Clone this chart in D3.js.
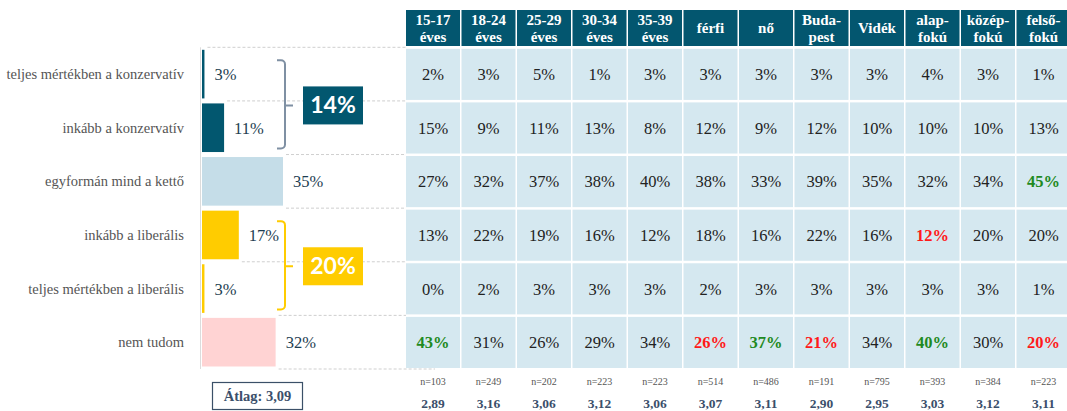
<!DOCTYPE html>
<html>
<head>
<meta charset="utf-8">
<script src="https://cdn.jsdelivr.net/npm/d3@7/dist/d3.min.js"></script>
<style>
  body { margin: 0; background: #fff; }
  svg { display: block; }
  svg text { font-family: "Liberation Serif", "DejaVu Serif", "Times New Roman", serif; }
  svg text.sans { font-family: Lato, "Open Sans", sans-serif; }
</style>
</head>
<body>
<svg id="chart" width="1067" height="411"></svg>
<script>
// answer categories and total shares
var categories = ["teljes mértékben a konzervatív", "inkább a konzervatív", "egyformán mind a kettő",
                  "inkább a liberális", "teljes mértékben a liberális", "nem tudom"];
var totals = [3, 11, 35, 17, 3, 32];
var barColors = ["#02576f", "#02576f", "#c5dde8", "#ffcc00", "#ffcc00", "#ffd3d3"];

// grouped sums
var groups = [
  { label: "14%", from: 0, to: 1, color: "#02576f", bracket: "#7f90a3" },
  { label: "20%", from: 3, to: 4, color: "#ffcc00", bracket: "#ffcc00" }
];

// table columns
var columns = [["15-17", "éves"], ["18-24", "éves"], ["25-29", "éves"], ["30-34", "éves"], ["35-39", "éves"],
               ["férfi"], ["nő"], ["Buda-", "pest"], ["Vidék"], ["alap-", "fokú"], ["közép-", "fokú"], ["felső-", "fokú"]];
var row0 = [2, 3, 5, 1, 3, 3, 3, 3, 3, 4, 3, 1];
var row1 = [15, 9, 11, 13, 8, 12, 9, 12, 10, 10, 10, 13];
var row2 = [27, 32, 37, 38, 40, 38, 33, 39, 35, 32, 34, 45];
var row3 = [13, 22, 19, 16, 12, 18, 16, 22, 16, 12, 20, 20];
var row4 = [0, 2, 3, 3, 3, 2, 3, 3, 3, 3, 3, 1];
var row5 = [43, 31, 26, 29, 34, 26, 37, 21, 34, 40, 30, 20];
var tableRows = [row0, row1, row2, row3, row4, row5];
var sampleSizes = [103, 249, 202, 223, 223, 514, 486, 191, 795, 393, 384, 223];
var averages = ["2,89", "3,16", "3,06", "3,12", "3,06", "3,07", "3,11", "2,90", "2,95", "3,03", "3,12", "3,11"];
var overallAverage = "3,09";

// significant deviations: [row, column, direction]
var highlights = [[2, 11, "up"], [3, 9, "down"], [5, 0, "up"], [5, 5, "down"], [5, 6, "up"],
                  [5, 7, "down"], [5, 9, "up"], [5, 11, "down"]];

var teal = "#03566f";

var svg = d3.select("#chart");

var y = d3.scaleBand().domain(d3.range(categories.length)).range([47.3, 369]);
var x = d3.scaleLinear().domain([2, 35]).range([202, 283]);
var col = d3.scaleBand().domain(d3.range(columns.length)).range([406, 406 + columns.length * 55.5]);

// dashed grid lines between rows
var bounds = d3.range(categories.length + 1);
svg.append("g").selectAll("line").data(bounds).join("line")
  .attr("x1", function(i) {
    var a = i > 0 ? x(totals[i - 1]) : 0;
    var b = i < totals.length ? x(totals[i]) : 0;
    return Math.max(a, b) + 3;
  })
  .attr("x2", function(i) { return i === categories.length ? 435 : 406; })
  .attr("y1", function(i) { return y.range()[0] + i * y.step(); })
  .attr("y2", function(i) { return y.range()[0] + i * y.step(); })
  .attr("stroke", "#cfcfcf")
  .attr("stroke-dasharray", "3,2");

// axis line
svg.append("line")
  .attr("x1", 200.5).attr("x2", 200.5)
  .attr("y1", y.range()[0]).attr("y2", y.range()[1])
  .attr("stroke", "#dcdcdc");

// category labels
svg.append("g").selectAll("text").data(categories).join("text")
  .attr("x", 184)
  .attr("y", function(d, i) { return y(i) + y.step() / 2 + 5; })
  .attr("text-anchor", "end")
  .attr("font-size", 14.5)
  .attr("fill", "#555")
  .text(function(d) { return d; });

// bars
svg.append("g").selectAll("rect").data(totals).join("rect")
  .attr("x", x(2))
  .attr("y", function(d, i) { return y(i) + 2.5; })
  .attr("width", function(d) { return x(d) - x(2); })
  .attr("height", y.step() - 5)
  .attr("fill", function(d, i) { return barColors[i]; });

svg.append("g").selectAll("text").data(totals).join("text")
  .attr("x", function(d) { return x(d) + 10; })
  .attr("y", function(d, i) { return y(i) + y.step() / 2 + 6; })
  .attr("font-size", 16.5)
  .attr("fill", "#1d3e51")
  .text(function(d) { return d + "%"; });

// brackets and group boxes
groups.forEach(function(g) {
  var top = y(g.from) + 13, bottom = y(g.to) + y.step() - 6, mid = (top + bottom) / 2 + 1;
  var p = d3.path();
  p.moveTo(277, top);
  p.lineTo(281, top);
  p.arcTo(285, top, 285, top + 4, 4);
  p.lineTo(285, bottom - 4);
  p.arcTo(285, bottom, 281, bottom, 4);
  p.lineTo(277, bottom);
  p.moveTo(285, mid);
  p.lineTo(293, mid);
  svg.append("path").attr("d", p.toString())
    .attr("fill", "none").attr("stroke", g.bracket).attr("stroke-width", 2);
  svg.append("rect")
    .attr("x", 303).attr("y", mid - 19).attr("width", 60).attr("height", 38)
    .attr("fill", g.color);
  svg.append("text")
    .attr("class", "sans")
    .attr("x", 333).attr("y", mid + 8)
    .attr("text-anchor", "middle")
    .attr("font-weight", 700)
    .attr("font-size", 23)
    .attr("fill", "#fff")
    .text(g.label);
});

// overall average box
svg.append("rect")
  .attr("x", 212.5).attr("y", 382.5).attr("width", 90).attr("height", 27)
  .attr("fill", "#fff").attr("stroke", "#3b5068").attr("stroke-width", 1.2);
svg.append("text")
  .attr("x", 257.5).attr("y", 401)
  .attr("text-anchor", "middle")
  .attr("font-weight", 700)
  .attr("font-size", 14.5)
  .attr("fill", "#3b4f6b")
  .text("Átlag: " + overallAverage);

// table header
var head = svg.append("g").selectAll("g").data(columns).join("g");
head.append("rect")
  .attr("x", function(d, i) { return col(i); })
  .attr("y", 10)
  .attr("width", col.step() - 1.5)
  .attr("height", 36)
  .attr("fill", teal);
head.each(function(d, i) {
  var t = d3.select(this).append("text")
    .attr("text-anchor", "middle")
    .attr("font-weight", 700)
    .attr("font-size", 15)
    .attr("fill", "#fff");
  var cx = col(i) + (col.step() - 1.5) / 2;
  if (d.length === 1) {
    t.append("tspan").attr("x", cx).attr("y", 33).text(d[0]);
  } else {
    t.append("tspan").attr("x", cx).attr("y", 25).text(d[0]);
    t.append("tspan").attr("x", cx).attr("y", 42).text(d[1]);
  }
});

// table cells
var hl = {};
highlights.forEach(function(h) { hl[h[0] + "_" + h[1]] = h[2]; });

var cells = [];
tableRows.forEach(function(r, ri) {
  r.forEach(function(v, ci) { cells.push({ r: ri, c: ci, v: v, h: hl[ri + "_" + ci] }); });
});

var cell = svg.append("g").selectAll("g").data(cells).join("g");
cell.append("rect")
  .attr("x", function(d) { return col(d.c); })
  .attr("y", function(d) { return y(d.r) + 1.5; })
  .attr("width", col.step() - 1.5)
  .attr("height", y.step() - 2.5)
  .attr("fill", "#d5e8f0");
cell.append("text")
  .attr("x", function(d) { return col(d.c) + (col.step() - 1.5) / 2; })
  .attr("y", function(d) { return y(d.r) + y.step() / 2 + 6; })
  .attr("text-anchor", "middle")
  .attr("font-size", 16.5)
  .attr("font-weight", function(d) { return d.h ? 700 : 400; })
  .attr("fill", function(d) { return d.h === "up" ? "#1f8a1f" : d.h === "down" ? "#ff1a1a" : "#222"; })
  .text(function(d) { return d.v + "%"; });

// sample sizes and averages
svg.append("g").selectAll("text").data(sampleSizes).join("text")
  .attr("x", function(d, i) { return col(i) + (col.step() - 1.5) / 2; })
  .attr("y", 385)
  .attr("text-anchor", "middle")
  .attr("font-size", 10)
  .attr("fill", "#555")
  .text(function(d) { return "n=" + d; });

svg.append("g").selectAll("text").data(averages).join("text")
  .attr("x", function(d, i) { return col(i) + (col.step() - 1.5) / 2; })
  .attr("y", 408)
  .attr("text-anchor", "middle")
  .attr("font-weight", 700)
  .attr("font-size", 13.5)
  .attr("fill", "#3b4f6b")
  .text(function(d) { return d; });
</script>
</body>
</html>
